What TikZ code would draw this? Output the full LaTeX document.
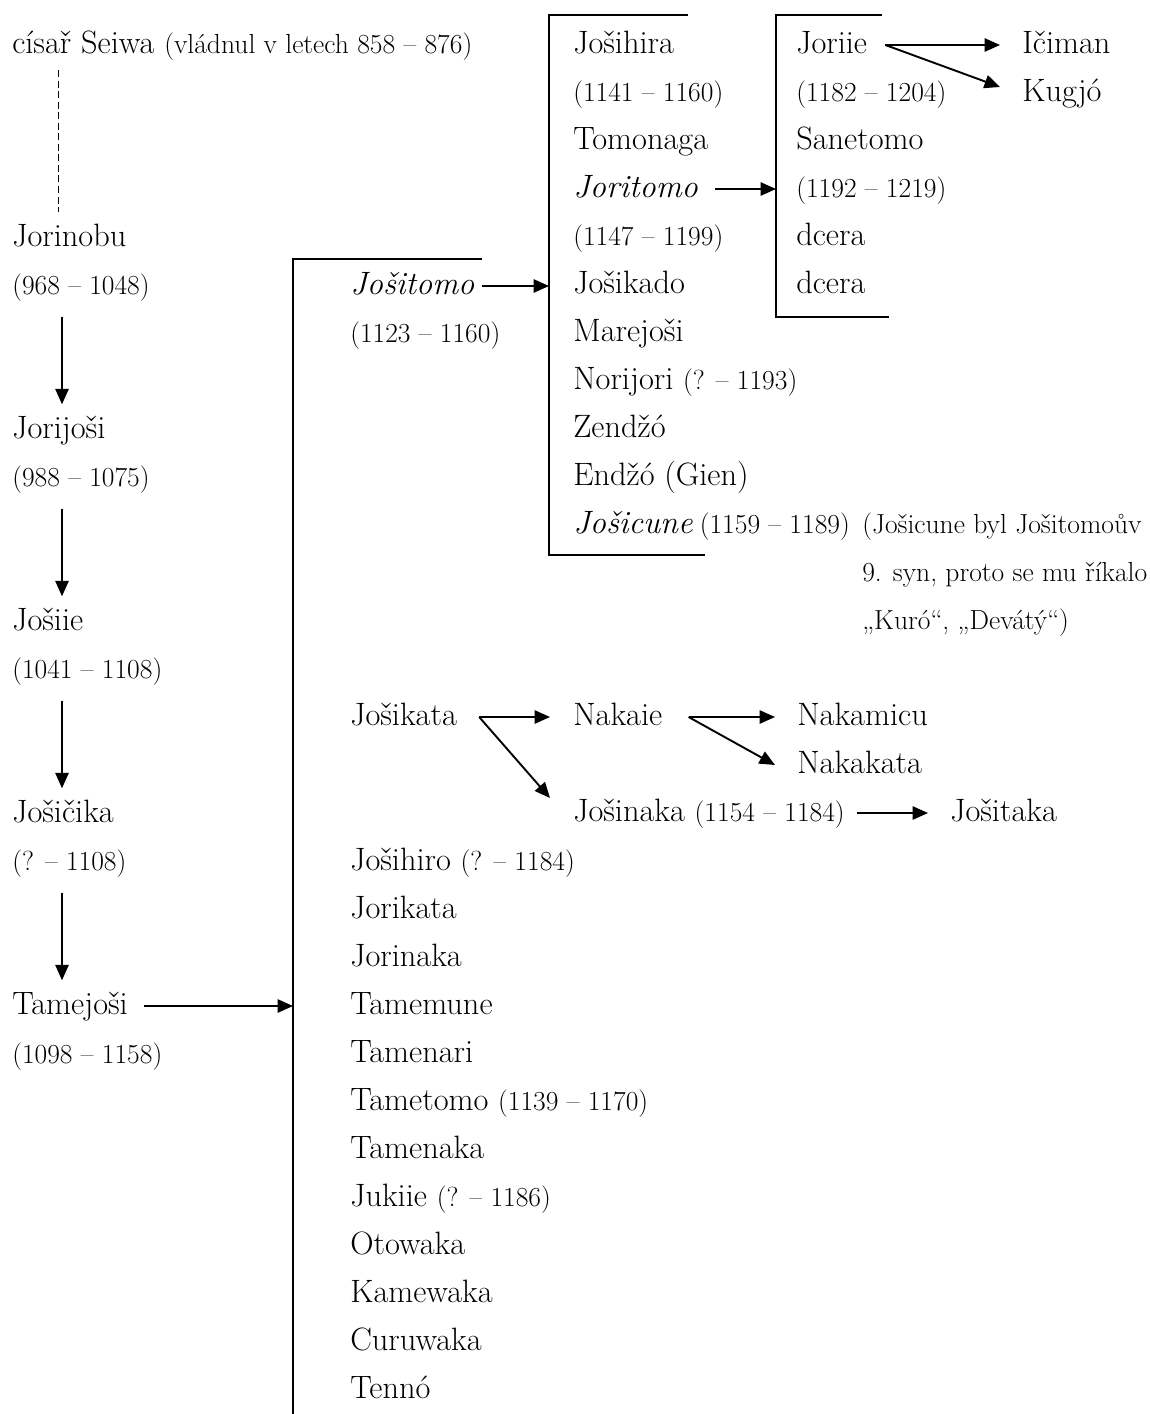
\documentclass[tikz,border=0pt]{standalone}
\usepackage{fontspec}
\usepackage{tikz}
\usetikzlibrary{arrows.meta}
\newcommand{\nmsize}{\fontsize{23pt}{27pt}\selectfont}
\newcommand{\yrsize}{\fontsize{19.6pt}{23pt}\selectfont}

\begin{document}
\begin{tikzpicture}[x=0.025cm, y=-0.025cm, >={Triangle[length=11pt, width=9.5pt]},
  every node/.style={anchor=west, inner sep=0pt, text height=17pt, text depth=5pt, font=\nmsize},
  yr/.style={font=\yrsize},
  tie/.style={->, line width=1.35pt},
  brk/.style={line width=1.35pt}]
  \useasboundingbox (0,0) rectangle (1150,1414);
  % left column: the main line down to Tamejoši
  \node (seiwa)     at (12,45)   {císař Seiwa {\yrsize(vládnul v letech 858 – 876)}};
  \node (jorinobu)  at (12,238)  {Jorinobu};
  \node[yr] (jorinobuY) at (12,286) {(968 – 1048)};
  \node (jorijosi)  at (12,430)  {Jorijoši};
  \node[yr] (jorijosiY) at (12,478) {(988 – 1075)};
  \node (josiie)    at (12,622)  {Jošiie};
  \node[yr] (josiieY)   at (12,670) {(1041 – 1108)};
  \node (josicika)  at (12,814)  {Jošičika};
  \node[yr] (josicikaY) at (12,862) {(? – 1108)};
  \node (tamejosi)  at (12,1006) {Tamejoši};
  \node[yr] (tamejosiY) at (12,1055) {(1098 – 1158)};
  % the three brackets
  \coordinate (br1) at (293,259);
  \coordinate (br2) at (549,15);
  \coordinate (br3) at (776,15);
  \draw[brk] (482,259) -- (br1) -- (293,1414);
  \draw[brk] (688,15) -- (br2) -- (549,555) -- (705,555);
  \draw[brk] (882,15) -- (br3) -- (776,317) -- (889,317);
  % sons of Tamejoši
  \node (josiitomo)  at (350,286)  {\textit{Jošitomo}};
  \node[yr] (josiitomoY) at (350,334) {(1123 – 1160)};
  \node (josikata)   at (350,717)  {Jošikata};
  \node (josihiro)   at (350,862)  {Jošihiro {\yrsize(? – 1184)}};
  \node (jorikata)   at (350,910)  {Jorikata};
  \node (jorinaka)   at (350,958)  {Jorinaka};
  \node (tamemune)   at (350,1006) {Tamemune};
  \node (tamenari)   at (350,1054) {Tamenari};
  \node (tametomo)   at (350,1102) {Tametomo {\yrsize(1139 – 1170)}};
  \node (tamenaka)   at (350,1150) {Tamenaka};
  \node (jukiie)     at (350,1198) {Jukiie {\yrsize(? – 1186)}};
  \node (otowaka)    at (350,1246) {Otowaka};
  \node (kamewaka)   at (350,1294) {Kamewaka};
  \node (curuwaka)   at (350,1342) {Curuwaka};
  \node (tenno)      at (350,1390) {Tennó};
  % sons of Jošitomo
  \node (josihira)   at (573,45)  {Jošihira};
  \node[yr] (josihiraY) at (573,93) {(1141 – 1160)};
  \node (tomonaga)   at (573,141) {Tomonaga};
  \node (joritomo)   at (573,189) {\textit{Joritomo}};
  \node[yr] (joritomoY) at (573,237) {(1147 – 1199)};
  \node (josikado)   at (573,285) {Jošikado};
  \node (marejosi)   at (573,333) {Marejoši};
  \node (norijori)   at (573,381) {Norijori {\yrsize(? – 1193)}};
  \node (zendzo)     at (573,429) {Zendžó};
  \node (endzo)      at (573,477) {Endžó (Gien)};
  \node (josicune)   at (573,525) {\textit{Jošicune}\hspace{5pt}{\yrsize(1159 – 1189)}};
  \node[yr] (note1)  at (862,525) {(Jošicune byl Jošitomoův};
  \node[yr] (note2)  at (862,573) {9. syn, proto se mu říkalo};
  \node[yr] (note3)  at (862,621) {„Kuró“, „Devátý“)};
  % children of Joritomo and grandsons
  \node (joriie)     at (796,45)  {Joriie};
  \node[yr] (joriieY) at (796,93) {(1182 – 1204)};
  \node (sanetomo)   at (796,141) {Sanetomo};
  \node[yr] (sanetomoY) at (796,189) {(1192 – 1219)};
  \node (dcera1)     at (796,237) {dcera};
  \node (dcera2)     at (796,285) {dcera};
  \node (iciman)     at (1022,45) {Ičiman};
  \node (kugjo)      at (1022,93) {Kugjó};
  % Jošikata's line
  \node (nakaie)     at (573,717) {Nakaie};
  \node (josinaka)   at (573,813) {Jošinaka {\yrsize(1154 – 1184)}};
  \node (nakamicu)   at (797,717) {Nakamicu};
  \node (nakakata)   at (797,765) {Nakakata};
  \node (jositaka)   at (950,813) {Jošitaka};
  \draw[dashed, line width=0.6pt, dash pattern=on 5pt off 2.5pt] ([shift={(46,25)}]seiwa.west) -- ([shift={(46,-26)}]jorinobu.west);
  \draw[tie] ([shift={(50,15)}]jorinobuY.south west) -- ([shift={(50,-10)}]jorijosi.north west);
  \draw[tie] ([shift={(50,15)}]jorijosiY.south west) -- ([shift={(50,-10)}]josiie.north west);
  \draw[tie] ([shift={(50,15)}]josiieY.south west) -- ([shift={(50,-10)}]josicika.north west);
  \draw[tie] ([shift={(50,15)}]josicikaY.south west) -- ([shift={(50,-10)}]tamejosi.north west);
  \draw[tie] ([shift={(16,0)}]tamejosi.east) -- (tamejosi.east -| br1);
  \draw[tie] ([shift={(7,0)}]josiitomo.east) -- (josiitomo.east -| br2);
  \draw[tie] ([shift={(17,0)}]joritomo.east) -- (joritomo.east -| br3);
  \draw[tie] ([shift={(18,0)}]joriie.east) -- ([shift={(-22,0)}]iciman.west);
  \draw[tie] ([shift={(18,0)}]joriie.east) -- ([shift={(-22,-6)}]kugjo.west);
  \draw[tie] ([shift={(22,0)}]josikata.east) -- ([shift={(-23,0)}]nakaie.west);
  \draw[tie] ([shift={(22,0)}]josikata.east) -- ([shift={(-23,-15)}]josinaka.west);
  \draw[tie] ([shift={(26,0)}]nakaie.east) -- ([shift={(-22,0)}]nakamicu.west);
  \draw[tie] ([shift={(26,0)}]nakaie.east) -- ([shift={(-22,0)}]nakakata.west);
  \draw[tie] ([shift={(12,0)}]josinaka.east) -- ([shift={(-22,0)}]jositaka.west);
\end{tikzpicture}
\end{document}
